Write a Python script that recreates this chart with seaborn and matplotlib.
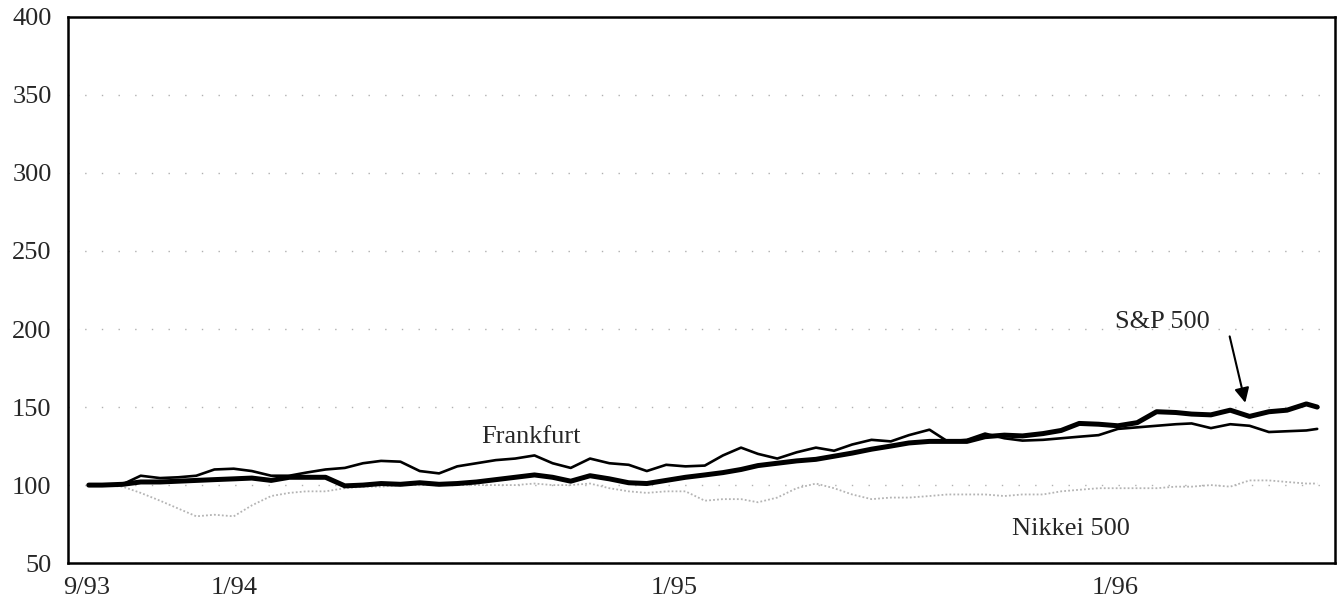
import pandas as pd
import numpy as np
import matplotlib
matplotlib.use('Agg')
import matplotlib.pyplot as plt
import seaborn as sns

# 지수 비교 (9/93 = 100)
dates = ['1993-09-03', '1993-09-14', '1993-10-01', '1993-10-16', '1993-11-01', '1993-11-16', '1993-12-01', '1993-12-16',
         '1994-01-01', '1994-01-16', '1994-02-01', '1994-02-16', '1994-03-02', '1994-03-18', '1994-04-03', '1994-04-18',
         '1994-05-03', '1994-05-19', '1994-06-04', '1994-06-20', '1994-07-05', '1994-07-21', '1994-08-06', '1994-08-22',
         '1994-09-07', '1994-09-22', '1994-10-07', '1994-10-23', '1994-11-08', '1994-11-24', '1994-12-09', '1994-12-25',
         '1995-01-10', '1995-01-26', '1995-02-10', '1995-02-25', '1995-03-11', '1995-03-27', '1995-04-12', '1995-04-28',
         '1995-05-13', '1995-05-28', '1995-06-13', '1995-06-29', '1995-07-14', '1995-07-31', '1995-08-15', '1995-08-31',
         '1995-09-15', '1995-10-01', '1995-10-16', '1995-11-02', '1995-11-17', '1995-12-02', '1995-12-18',
         '1996-01-03', '1996-01-19', '1996-02-04', '1996-02-20', '1996-03-04', '1996-03-20', '1996-04-05', '1996-04-21',
         '1996-05-07', '1996-05-22', '1996-06-07', '1996-06-16']

sp500 = [100, 100, 100.5, 102, 102, 102.5, 103, 103.5,
         104, 104.5, 103, 105, 105, 105, 99.5, 100, 101, 100.5, 101.5, 100.5, 101, 102, 103.5, 105,
         106.5, 105, 102.5, 106, 104, 101.5, 101, 103,
         105, 106.5, 108, 110, 112.5, 114, 115.5, 116.5, 118.5, 120.5, 123, 125, 127, 128, 128, 128,
         131, 132, 131.5, 133, 135, 139.5, 139,
         138, 140, 147, 146.5, 145.5, 145, 148, 144, 147, 148, 152, 150]

frankfurt = [100, 100, 100.5, 106, 104.5, 105, 106, 110,
             110.5, 109, 106, 106, 108, 110, 111, 114, 115.5, 115, 109, 107.5, 112, 114, 116, 117,
             119, 114, 111, 117, 114, 113, 109, 113,
             112, 112.5, 119, 124, 120, 117, 121, 124, 122, 126, 129, 128, 132, 135.5, 128, 129,
             133, 130, 128.5, 129, 130, 131, 132,
             136, 137, 138, 139, 139.5, 136.5, 139, 138, 134, 134.5, 135, 136]

nikkei = [100, 100, 99, 95, 90, 85, 80, 81,
          80, 87, 93, 95, 96, 96, 98, 99, 99, 100, 100, 100, 100, 100, 100, 100,
          101, 100, 100, 101, 98, 96, 95, 96,
          96, 90, 91, 91, 89, 92, 98, 101, 98, 94, 91, 92, 92, 93, 94, 94,
          94, 93, 94, 94, 96, 97, 98,
          98, 98, 98, 99, 99, 100, 99, 103, 103, 102, 101, 101]

yticks = [50, 100, 150, 200, 250, 300, 350, 400]
xtick_dates = ['1993-09-01', '1994-01-01', '1995-01-01', '1996-01-01']
xtick_labels = ['9/93', '1/94', '1/95', '1/96']

df = pd.DataFrame({'date': pd.to_datetime(dates), 'sp': sp500, 'fr': frankfurt, 'nk': nikkei})

sns.set_style('white')
plt.rcParams['font.family'] = ['Liberation Serif', 'DejaVu Serif']

fig = plt.figure(figsize=(13.38, 6.01), dpi=100)
ax = fig.add_axes([0.051, 0.063, 0.947, 0.909])

ax.grid(axis='y', linestyle=(0, (1, 11)), color='#b0b0b0', linewidth=1.0)
ax.set_axisbelow(True)

sns.lineplot(data=df, x='date', y='nk', ax=ax, color='#b4b4b4', linewidth=1.3, linestyle=(0, (1, 1.2)))
sns.lineplot(data=df, x='date', y='fr', ax=ax, color='black', linewidth=1.9)
sns.lineplot(data=df, x='date', y='sp', ax=ax, color='black', linewidth=3.6)

ax.set_ylim(50, 400)
ax.set_xlim(pd.Timestamp('1993-08-17'), pd.Timestamp('1996-07-01'))
ax.set_yticks(yticks)
ax.set_yticklabels([str(v) for v in yticks], fontsize=19)
ax.set_xticks(pd.to_datetime(xtick_dates))
ax.set_xticklabels(xtick_labels, fontsize=19)
ax.tick_params(axis='both', length=0)
ax.tick_params(axis='y', pad=12)
ax.tick_params(axis='x', pad=10)
ax.set_xlabel('')
ax.set_ylabel('')

for s in ax.spines.values():
    s.set_visible(True)
    s.set_color('black')
    s.set_linewidth(1.8)

# 라벨들
ax.text(pd.Timestamp('1994-07-25'), 127, 'Frankfurt', fontsize=19, va='baseline', ha='left')
ax.text(pd.Timestamp('1995-10-07'), 68, 'Nikkei 500', fontsize=19, va='baseline', ha='left')
ax.text(pd.Timestamp('1996-01-01'), 204.5, 'S&P 500', fontsize=19, va='center', ha='left')
ax.annotate('', xy=(pd.Timestamp('1996-04-18'), 151), xytext=(pd.Timestamp('1996-04-04'), 197),
            arrowprops=dict(arrowstyle='-|>', color='black', lw=1.5, mutation_scale=22))

plt.savefig('out.png', dpi=100)
